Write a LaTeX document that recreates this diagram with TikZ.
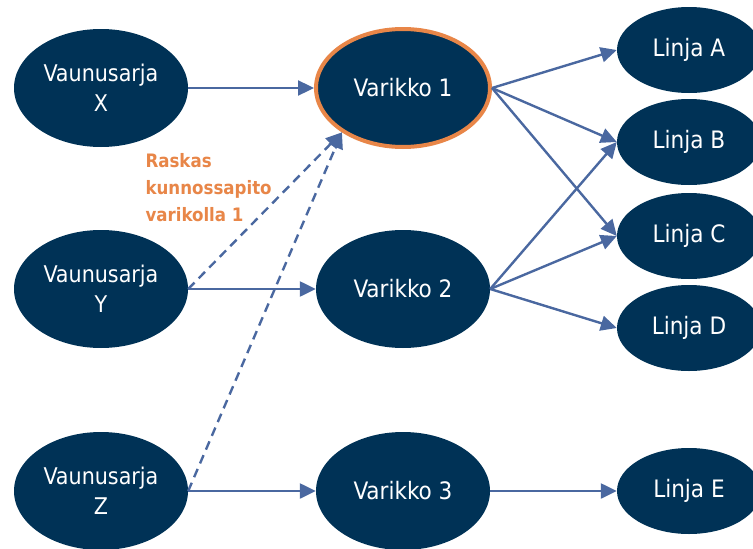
\documentclass[tikz,border=0pt]{standalone}
\usepackage{fontspec}
\setmainfont{DejaVu Sans Condensed}
\usepackage{tikz}
\usetikzlibrary{shapes.geometric,arrows.meta}

\definecolor{navy}{RGB}{0,50,86}
\definecolor{linkblue}{RGB}{74,104,160}
\definecolor{heavyorange}{RGB}{232,134,72}

\begin{document}
\begin{tikzpicture}[x=1pt,y=-1pt,
		blob/.style={ellipse, fill=navy, text=white, inner sep=0pt, align=center, font=\fontsize{24}{30}\selectfont},
		big/.style={blob, minimum width=174pt, minimum height=118pt},
		small/.style={blob, minimum width=144pt, minimum height=86pt},
		link/.style={draw=linkblue, line width=2.4pt, -{Triangle[length=16pt,width=15pt]}},
		heavy/.style={link, dash pattern=on 9pt off 6pt}]
				% Canvas
				\useasboundingbox (0,0) rectangle (753,549);
				% Wagon sets
				\node[big, font=\fontsize{23}{30}\selectfont] (vx) at (101,88) {Vaunusarja\\X};
				\node[big, font=\fontsize{23}{30}\selectfont] (vy) at (101,289) {Vaunusarja\\Y};
				\node[big, font=\fontsize{23}{30}\selectfont] (vz) at (101,491) {Vaunusarja\\Z};
				% Depots
				\node[big, draw=heavyorange, line width=4pt] (dep1) at (403,88) {Varikko 1};
				\node[big] (dep2) at (403,289) {Varikko 2};
				\node[big] (dep3) at (403,491) {Varikko 3};
				% Lines
				\foreach \l/\y in {A/50,B/142,C/236,D/328,E/491}
					\node[small] (line\l) at (689,\y) {Linja \l};
				% Heavy maintenance note
				\node[anchor=north west, align=left, text=heavyorange, font=\fontsize{18.5}{27}\selectfont\bfseries] (note) at (142,150) {Raskas\\kunnossapito\\varikolla 1};
				% Connectors
				\draw[link] (vx.east) -- (dep1.west);
				\draw[link] (vy.east) -- (dep2.west);
				\draw[link] (vz.east) -- (dep3.west);
				\draw[heavy] (vy.east) -- (dep1.216);
				\draw[heavy] (vz.east) -- (dep1.216);
				\foreach \l in {A,B,C}
					\draw[link] (dep1.east) -- (line\l.west);
				\foreach \l in {B,C,D}
					\draw[link] (dep2.east) -- (line\l.west);
				\draw[link] (dep3.east) -- (lineE.west);
			\end{tikzpicture}
\end{document}
